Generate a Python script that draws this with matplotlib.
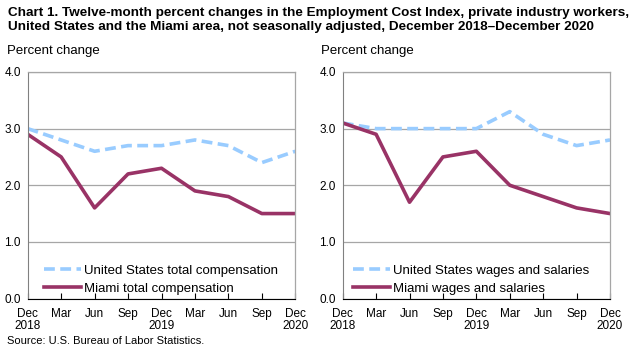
import matplotlib
matplotlib.use("Agg")
import matplotlib.pyplot as plt

plt.rcParams['font.family'] = ['Liberation Sans', 'DejaVu Sans']

tick_labels = ['Dec\n2018', 'Mar', 'Jun', 'Sep', 'Dec\n2019', 'Mar', 'Jun', 'Sep', 'Dec\n2020']
us_total = [3.0, 2.8, 2.6, 2.7, 2.7, 2.8, 2.7, 2.4, 2.6]
miami_total = [2.9, 2.5, 1.6, 2.2, 2.3, 1.9, 1.8, 1.5, 1.5]
us_wages = [3.1, 3.0, 3.0, 3.0, 3.0, 3.3, 2.9, 2.7, 2.8]
miami_wages = [3.1, 2.9, 1.7, 2.5, 2.6, 2.0, 1.8, 1.6, 1.5]

US_COLOR = '#99CCFF'
MI_COLOR = '#993366'

W, H = 631, 347
fig = plt.figure(figsize=(W/100, H/100), dpi=100)

def make_ax(x0, x1, us, mi, us_lab, mi_lab, leg_x):
    top, bot = 72, 298.5
    ax = fig.add_axes([x0/W, 1 - bot/H, (x1-x0)/W, (bot-top)/H])
    x = list(range(len(tick_labels)))
    ax.plot(x, us, color=US_COLOR, lw=2.6, ls=(0, (3, 1.5)), label=us_lab)
    ax.plot(x, mi, color=MI_COLOR, lw=2.6, label=mi_lab)
    ax.set_xlim(0, len(x)-1)
    ax.set_ylim(0, 4)
    ax.set_yticks([0, 1, 2, 3, 4])
    ax.set_yticklabels(['0.0', '1.0', '2.0', '3.0', '4.0'])
    ax.set_xticks(x)
    ax.set_xticklabels(tick_labels, linespacing=1.1)
    ax.yaxis.grid(True, color='#A6A6A6', lw=0.9)
    ax.set_axisbelow(True)
    for s in ['top', 'right']:
        ax.spines[s].set_color('#A6A6A6')
        ax.spines[s].set_linewidth(0.9)
    ax.spines['left'].set_color('#808080')
    ax.spines['bottom'].set_color('black')
    ax.tick_params(axis='y', length=0, labelsize=8.5, pad=5)
    ax.tick_params(axis='x', direction='in', length=4, labelsize=8.5, pad=6.5, color='black')
    ax.legend(loc='lower left', frameon=False, fontsize=9.5, handlelength=2.8,
              handletextpad=0.2, borderaxespad=0.3, labelspacing=0.42,
              bbox_to_anchor=(leg_x, -0.024))
    return ax

make_ax(27.7, 295.3, us_total, miami_total,
        'United States total compensation', 'Miami total compensation', 0.028)
make_ax(342.7, 610, us_wages, miami_wages,
        'United States wages and salaries', 'Miami wages and salaries', 0.005)

fig.text(8/W, 1 - 7/H,
         'Chart 1. Twelve-month percent changes in the Employment Cost Index, private industry workers,\n'
         'United States and the Miami area, not seasonally adjusted, December 2018\u2013December 2020',
         ha='left', va='top', fontsize=9.7, fontweight='bold', linespacing=1.25)
fig.text(7/W, 1 - 51/H, 'Percent change', ha='left', va='center', fontsize=9.5)
fig.text(321/W, 1 - 51/H, 'Percent change', ha='left', va='center', fontsize=9.5)
fig.text(7/W, 1 - 341/H, 'Source: U.S. Bureau of Labor Statistics.', ha='left', va='center', fontsize=8)

fig.savefig('out.png', dpi=100)
